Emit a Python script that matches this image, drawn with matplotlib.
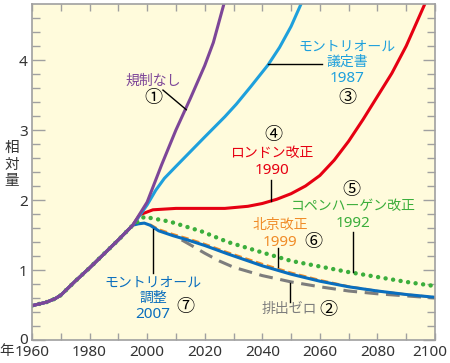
import matplotlib
matplotlib.use("Agg")
import matplotlib.pyplot as plt
import matplotlib.transforms as mtransforms

plt.rcParams['font.family'] = ['Noto Sans', 'Noto Sans CJK JP', 'DejaVu Sans']

# shared history 1960-1995
hist_years = [1960, 1965, 1968, 1970, 1975, 1980, 1985, 1990, 1995]
hist_vals = [0.49, 0.54, 0.59, 0.64, 0.84, 1.03, 1.23, 1.43, 1.64]

# 1 no regulation
no_reg_years = [1995, 2000, 2005, 2010, 2015, 2020, 2023, 2027]
no_reg_vals = [1.64, 1.97, 2.50, 3.00, 3.45, 3.92, 4.25, 4.85]

# 3 Montreal protocol 1987
mp_years = [1995, 2000, 2003, 2006, 2010, 2015, 2020, 2027, 2031, 2036, 2042, 2046, 2050, 2054]
mp_vals = [1.64, 1.93, 2.14, 2.31, 2.48, 2.69, 2.90, 3.19, 3.37, 3.62, 3.93, 4.18, 4.48, 4.85]

# 4 London 1990
lon_years = [1995, 1997.5, 2002, 2010, 2020, 2027, 2035, 2040, 2045, 2050, 2055, 2060,
             2065, 2070, 2075, 2080, 2085, 2090, 2097]
lon_vals = [1.64, 1.79, 1.86, 1.88, 1.88, 1.88, 1.91, 1.95, 2.01, 2.09, 2.20, 2.35,
            2.57, 2.84, 3.15, 3.48, 3.81, 4.20, 4.85]

# 5 Copenhagen 1992
cop_years = [1995, 1999, 2008, 2019, 2028, 2040, 2050, 2060, 2070, 2080, 2090, 2100]
cop_vals = [1.64, 1.76, 1.69, 1.55, 1.40, 1.25, 1.13, 1.05, 0.97, 0.90, 0.83, 0.77]

# 7 Montreal adjustment 2007
adj_years = [1995, 1997, 1999, 2001, 2004, 2009, 2014, 2020, 2028, 2040, 2050, 2060, 2070, 2080, 2090, 2100]
adj_vals = [1.64, 1.66, 1.67, 1.64, 1.56, 1.49, 1.43, 1.35, 1.23, 1.06, 0.94, 0.84, 0.76, 0.70, 0.65, 0.61]

# 6 Beijing 1999
bei_years = [2001, 2004, 2009, 2014, 2020, 2028, 2040, 2050, 2060, 2070, 2080, 2090, 2100]
bei_vals = [1.65, 1.58, 1.51, 1.45, 1.37, 1.25, 1.085, 0.96, 0.855, 0.765, 0.70, 0.65, 0.61]

# 2 zero emission
zero_years = [2012, 2015, 2020, 2025, 2030, 2040, 2050, 2060, 2070, 2080, 2090, 2100]
zero_vals = [1.43, 1.36, 1.24, 1.13, 1.04, 0.92, 0.83, 0.76, 0.70, 0.66, 0.63, 0.60]

x_ticks = [1960, 1980, 2000, 2020, 2040, 2060, 2080, 2100]
x_labels = ['1960', '1980', '2000', '2020', '2040', '2060', '2080', '2100']

PURPLE = '#7d4698'
CYAN = '#1ea0dc'
RED = '#e60012'
GREEN = '#3cae3c'
ORANGE = '#f08c28'
BLUE = '#0a6ebe'
GRAY = '#7d7d7d'
FRAME = '#a0a0a0'
TXT = '#333333'

fig = plt.figure(figsize=(4.5, 3.63), dpi=100)
ax = fig.add_axes([32 / 450, 23 / 363, 403 / 450, 336 / 363])
ax.set_facecolor('#fffbdc')
ax.set_xlim(1960, 2100)
ax.set_ylim(0, 4.8)

kw = dict(solid_capstyle='round', solid_joinstyle='round')
ax.plot(zero_years, zero_vals, color=GRAY, lw=2.2, ls=(0, (4.5, 2.5)))
ax.plot(bei_years, bei_vals, color=ORANGE, lw=1.8, ls=(0, (3, 1.5)))
ax.plot(hist_years + adj_years[1:], hist_vals + adj_vals[1:], color=BLUE, lw=2.2, **kw)
ax.plot(hist_years + cop_years[1:], hist_vals + cop_vals[1:], color=GREEN, lw=3.2,
        ls=(0, (0.01, 1.7)), dash_capstyle='round')
ax.plot(hist_years + lon_years[1:], hist_vals + lon_vals[1:], color=RED, lw=2.2, **kw)
ax.plot(hist_years + mp_years[1:], hist_vals + mp_vals[1:], color=CYAN, lw=2.2, **kw)
ax.plot(hist_years + no_reg_years[1:], hist_vals + no_reg_vals[1:], color=PURPLE, lw=2.2, **kw)

# ticks
ax.set_xticks(x_ticks)
ax.set_xticklabels(x_labels)
ax.set_xticks(range(1970, 2100, 20), minor=True)
ax.set_yticks([0, 1, 2, 3, 4])
ax.set_yticks([v / 10 for v in range(0, 48, 2)], minor=True)
ax.tick_params(axis='both', which='both', direction='in', color=FRAME, labelsize=11,
               labelcolor=TXT, width=1)
ax.tick_params(axis='x', which='both', length=5, top=True, pad=3.5)
ax.tick_params(axis='y', which='major', length=9, right=True, pad=3)
ax.tick_params(axis='y', which='minor', length=6, right=True)
ylab0 = ax.get_yticklabels()[0]
ylab0.set_transform(ylab0.get_transform() + mtransforms.ScaledTranslation(0, 2 / 100, fig.dpi_scale_trans))
last = ax.get_xticklabels()[-1]
last.set_transform(last.get_transform() + mtransforms.ScaledTranslation(-5 / 100, 0, fig.dpi_scale_trans))
for s in ax.spines.values():
    s.set_color(FRAME)
    s.set_linewidth(1.2)

fig.text(7 / 450, 1 - 352 / 363, '年', ha='center', va='center', fontsize=10.5, color=TXT)
fig.text(12 / 450, 1 - 165 / 363, '相\n対\n量', ha='center', va='center', fontsize=10.5,
         color=TXT, linespacing=1.1)

def lbl(x, y, s, c, fs=10):
    ax.text(x, y, s, color=c, fontsize=fs, ha='center', va='center')

def leader(x0, y0, x1, y1):
    ax.plot([x0, x1], [y0, y1], color='black', lw=1)

lbl(2002, 3.69, '規制なし', PURPLE)
lbl(2002, 3.46, '①', 'black', 13)
leader(2005.5, 3.57, 2013.6, 3.29)

lbl(2069.4, 4.19, 'モントリオール', CYAN)
lbl(2069.4, 3.97, '議定書', CYAN)
lbl(2069.4, 3.73, '1987', CYAN, 11)
lbl(2069.4, 3.46, '③', 'black', 13)
leader(2042, 3.94, 2060.7, 3.94)

lbl(2043.7, 2.93, '④', 'black', 13)
lbl(2043.4, 2.66, 'ロンドン改正', RED)
lbl(2043.4, 2.42, '1990', RED, 11)
leader(2043, 1.99, 2043, 2.29)

lbl(2070.8, 2.14, '⑤', 'black', 13)
lbl(2071.5, 1.91, 'コペンハーゲン改正', GREEN)
lbl(2071.5, 1.67, '1992', GREEN, 11)
leader(2071.5, 0.97, 2071.5, 1.54)

lbl(2046.2, 1.64, '北京改正', ORANGE)
lbl(2046.2, 1.40, '1999', ORANGE, 11)
lbl(2057.6, 1.40, '⑥', 'black', 13)
leader(2045.5, 1.04, 2045.5, 1.31)

lbl(2049.3, 0.43, '排出ゼロ', GRAY)
lbl(2062.8, 0.43, '②', 'black', 13)
leader(2049.6, 0.54, 2049.6, 0.82)

lbl(2002, 0.81, 'モントリオール', BLUE)
lbl(2002, 0.60, '調整', BLUE)
lbl(2002, 0.36, '2007', BLUE, 11)
lbl(2013.2, 0.47, '⑦', 'black', 13)
leader(2002, 0.96, 2002, 1.58)

fig.savefig('out.png', dpi=100)
